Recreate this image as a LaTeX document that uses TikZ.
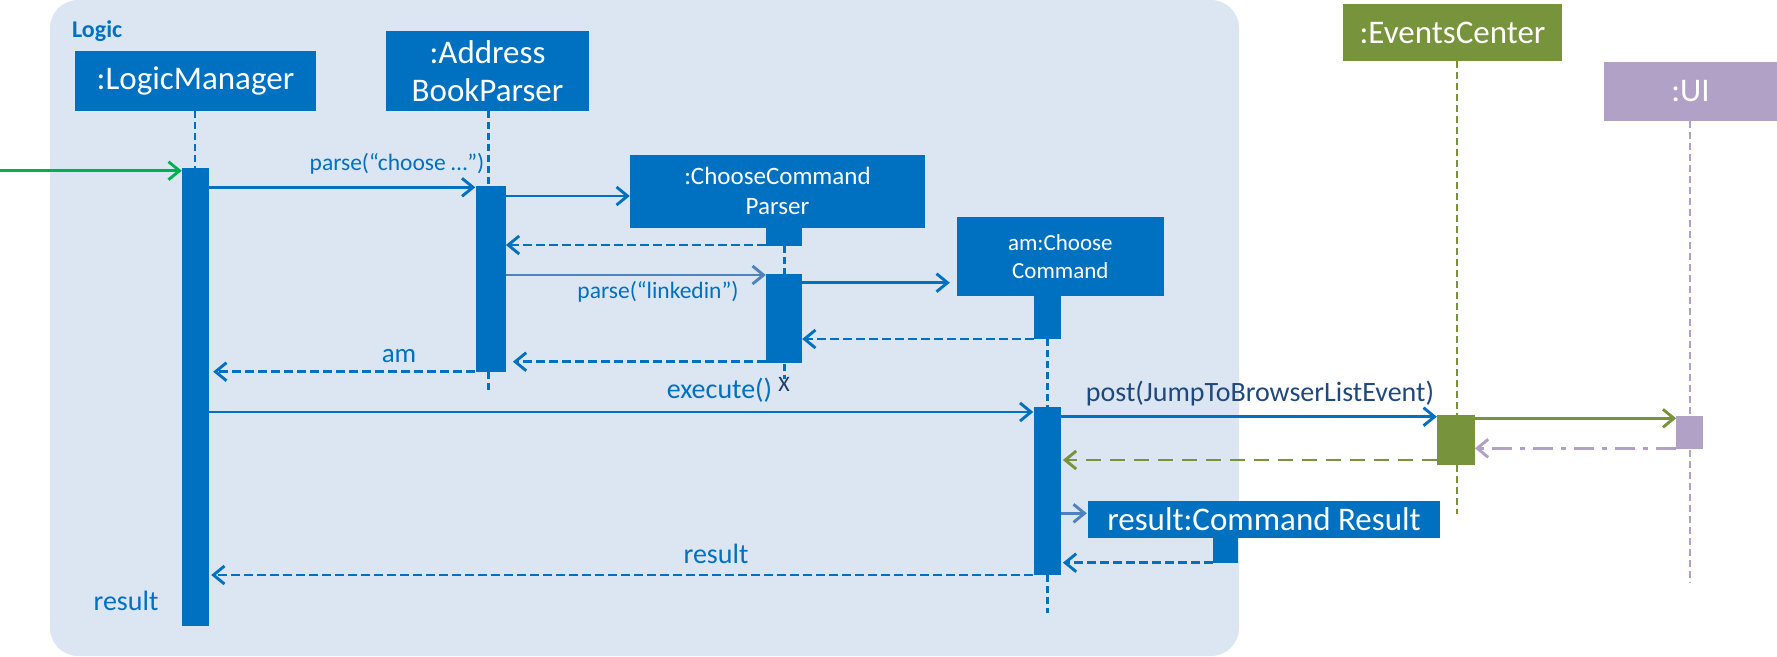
\documentclass[tikz,border=0pt]{standalone}
\usepackage{fontspec}
\setmainfont{Carlito}
\usetikzlibrary{arrows.meta,fit}
\definecolor{mblue}{HTML}{0070C0}
\definecolor{logicbg}{HTML}{DCE6F2}
\definecolor{egreen}{HTML}{77933C}
\definecolor{uipurple}{HTML}{B2A1C7}
\definecolor{entrygreen}{HTML}{00B050}
\definecolor{steel}{HTML}{4F81BD}
\definecolor{navy}{HTML}{1F497D}
\definecolor{xnavy}{HTML}{1F3864}
\newcommand{\fsz}[1]{\fontsize{#1}{1.18\dimexpr #1pt\relax}\selectfont}
\begin{document}
\begin{tikzpicture}[x=1pt,y=-1pt,
  obj/.style={fill=mblue, text=white, inner sep=0pt, align=center},
  bar/.style={fill=mblue, inner sep=0pt},
  life/.style={draw=mblue, line width=2.8pt, dash pattern=on 7pt off 4pt},
  msg/.style={draw=mblue, line width=2.9pt, -{Straight Barb[length=11pt,width=18pt]}},
  ret/.style={msg, dash pattern=on 9pt off 4pt},
  lbl/.style={text=mblue, anchor=base, inner sep=0pt},
]
\useasboundingbox (0,0) rectangle (1777,656);
% Logic frame
\fill[logicbg, rounded corners=28pt] (50,0) rectangle (1239,656);
\node[text=mblue, anchor=base west, inner sep=0pt, font=\bfseries\fsz{24}] (logiclbl) at (72,37) {Logic};

% objects
\node[obj, font=\fsz{33}, minimum width=241pt, minimum height=60pt] (lm) at (195.5,81) {:LogicManager};
\node[obj, font=\fontsize{33}{38}\selectfont, minimum width=203pt, minimum height=80pt] (abp) at (487.5,71) {:Address\\BookParser};
\node[obj, font=\fontsize{25}{30}\selectfont, minimum width=295pt, minimum height=72.7pt] (ccp) at (777.5,191.35) {:ChooseCommand\\Parser};
\node[obj, font=\fontsize{23}{28.4}\selectfont, minimum width=206.6pt, minimum height=78.4pt] (amc) at (1060.3,256.5) {am:Choose\\Command};
\node[obj, font=\fsz{33}, minimum width=352pt, minimum height=37.3pt] (res) at (1264,519.65) {result:Command Result};
\node[obj, fill=egreen, font=\fsz{33}, minimum width=219pt, minimum height=57pt] (ec) at (1452.5,32.5) {:EventsCenter};
\node[obj, fill=uipurple, font=\fsz{33}, minimum width=173pt, minimum height=58.7pt] (ui) at (1690.5,91.35) {:UI};

% activation bars
\node[bar, fit={(182,168)(209,626)}] (lmbar) {};
\node[bar, fit={(475.5,186)(505.7,372)}] (abpbar) {};
\node[bar, fit={(766.4,226)(802,245.7)}] (ccptab) {};
\node[bar, fit={(766,274)(802,363.3)}] (ccpbar) {};
\node[bar, fit={(1034,294)(1060.7,339)}] (amctab) {};
\node[bar, fit={(1033.5,407.3)(1060.7,575)}] (amcbar) {};
\node[bar, fill=egreen, fit={(1437,415)(1474.7,465)}] (ecbar) {};
\node[bar, fill=uipurple, fit={(1676.4,416)(1702.6,449.3)}] (uibar) {};
\node[bar, fit={(1213,537)(1238.3,563.3)}] (restab) {};

% lifeline x positions and ends
\coordinate (xlm) at (195,0);
\coordinate (xabp) at (488.7,0);
\coordinate (xccp) at (784.3,0);
\coordinate (xamc) at (1047.7,0);
\coordinate (xec) at (1457,0);
\coordinate (xui) at (1690,0);
\coordinate (abpend) at (488.7,390);
\coordinate (ccpend) at (784.3,379);
\coordinate (amcend) at (1047.7,612.7);
\coordinate (ecend) at (1457,514);
\coordinate (uiend) at (1690,582);

% lifelines
\draw[life] (lm.south -| xlm) -- (lmbar.north -| xlm);
\draw[life] (abp.south -| xabp) -- (abpbar.north -| xabp);
\draw[life] (abpbar.south -| xabp) -- (abpend);
\draw[life] (ccptab.south -| xccp) -- (ccpbar.north -| xccp);
\draw[life] (ccpbar.south -| xccp) -- (ccpend);
\draw[life] (amctab.south -| xamc) -- (amcbar.north -| xamc);
\draw[life] (amcbar.south -| xamc) -- (amcend);
\draw[life, draw=egreen] (ec.south -| xec) -- (ecbar.north -| xec);
\draw[life, draw=egreen] (ecbar.south -| xec) -- (ecend);
\draw[life, draw=uipurple] (ui.south -| xui) -- (uibar.north -| xui);
\draw[life, draw=uipurple] (uibar.south -| xui) -- (uiend);

% message heights
\coordinate (entry) at (0,170.7);
\coordinate (y2) at (0,187.3);
\coordinate (y3) at (0,196);
\coordinate (y4) at (0,245);
\coordinate (y5) at (0,275);
\coordinate (y6) at (0,282.7);
\coordinate (y7) at (0,339);
\coordinate (y8) at (0,361.7);
\coordinate (y9) at (0,371.7);
\coordinate (y10) at (0,412);
\coordinate (y11) at (0,416.7);
\coordinate (y12) at (0,418.3);
\coordinate (y13) at (0,448.3);
\coordinate (y14) at (0,460);
\coordinate (y15) at (0,513.3);
\coordinate (y16) at (0,562.7);
\coordinate (y17) at (0,575);

% messages
\draw[msg, draw=entrygreen] (entry) -- (lmbar.west |- entry);
\draw[msg] (lmbar.east |- y2) -- (abpbar.west |- y2);
\draw[msg] (abpbar.east |- y3) -- (ccp.west |- y3);
\draw[ret] (ccptab.west |- y4) -- (abpbar.east |- y4);
\draw[msg, draw=steel] (abpbar.east |- y5) -- (ccpbar.west |- y5);
\draw[msg, shorten >=7pt] (ccpbar.east |- y6) -- (amc.west |- y6);
\draw[ret] (amctab.west |- y7) -- (ccpbar.east |- y7);
\draw[ret, shorten >=7pt] (ccpbar.west |- y8) -- (abpbar.east |- y8);
\draw[ret, shorten >=4pt] (abpbar.west |- y9) -- (lmbar.east |- y9);
\draw[msg] (lmbar.east |- y10) -- (amcbar.west |- y10);
\draw[msg] (amcbar.east |- y11) -- (ecbar.west |- y11);
\draw[msg, draw=egreen] (ecbar.east |- y12) -- (uibar.west |- y12);
\draw[msg, draw=uipurple, dash pattern=on 20pt off 8pt on 5pt off 8pt] (uibar.west |- y13) -- (ecbar.east |- y13);
\draw[msg, draw=egreen, dash pattern=on 15pt off 9pt, shorten >=2pt] (ecbar.west |- y14) -- (amcbar.east |- y14);
\draw[msg, draw=steel, shorten >=1pt] (amcbar.east |- y15) -- (res.west |- y15);
\draw[ret, shorten >=2pt] (restab.west |- y16) -- (amcbar.east |- y16);
\draw[ret, shorten >=2pt] (amcbar.west |- y17) -- (lmbar.east |- y17);

% labels
\node[lbl, font=\fsz{23.5}] (l1) at (397,170) {parse(“choose …”)};
\node[lbl, font=\fsz{23.5}] (l2) at (658,298) {parse(“linkedin”)};
\node[lbl, font=\fsz{27}] (l3) at (399,362.3) {am};
\node[lbl, font=\fsz{28}] (l4) at (719.5,398.3) {execute()};
\node[text=xnavy, inner sep=0pt, font=\fsz{22}] (xmark) at (784,384) {X};
\node[lbl, text=navy, font=\fsz{28}] (l5) at (1260,401.7) {post(JumpToBrowserListEvent)};
\node[lbl, font=\fsz{28}] (l6) at (716,563) {result};
\node[lbl, font=\fsz{28}] (l7) at (126,610.7) {result};
\end{tikzpicture}
\end{document}
